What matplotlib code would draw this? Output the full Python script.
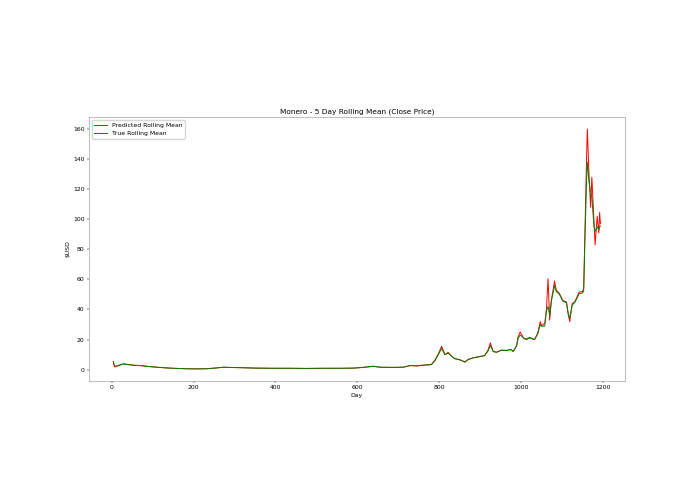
import matplotlib
matplotlib.use("Agg")
import matplotlib.pyplot as plt

days = [4, 7, 10, 15, 22, 29, 40, 55, 70, 90, 111, 130, 151, 180, 208, 232, 255, 273,
        295, 314, 354, 395, 435, 475, 516, 560, 590, 615, 639, 655, 685, 712, 729, 745,
        762, 781, 790, 798, 806, 810, 814, 822, 830, 838, 850, 863, 871, 883, 895, 911,
        919, 925, 932, 940, 952, 964, 975, 981, 989, 993, 998, 1007, 1014, 1021, 1033,
        1041, 1047, 1050, 1058, 1062, 1066, 1070, 1074, 1082, 1086, 1094, 1102, 1111,
        1115, 1119, 1125, 1131, 1142, 1150, 1153, 1156, 1160, 1162, 1166, 1170, 1173,
        1178, 1181, 1186, 1190, 1192, 1194]

true_mean = [4.5, 2.5, 2.3, 2.6, 3.2, 3.8, 3.3, 2.9, 2.7, 2.1, 1.6, 1.2, 0.9, 0.6, 0.5,
             0.6, 1.1, 1.6, 1.4, 1.3, 1.0, 0.9, 0.9, 0.8, 0.9, 0.9, 1.0, 1.5, 2.2, 1.6,
             1.5, 1.6, 2.7, 2.5, 3.0, 3.3, 6.0, 10.0, 14.0, 12.0, 10.0, 11.0, 9.0, 7.3,
             6.7, 5.1, 6.7, 7.8, 8.4, 9.3, 12.2, 16.0, 12.2, 11.6, 12.9, 12.7, 13.3, 12.2,
             15.5, 21.0, 23.0, 21.0, 20.0, 21.0, 20.0, 24.0, 30.0, 28.9, 29.0, 39.0, 42.0,
             36.0, 45.5, 56.0, 52.0, 50.0, 45.5, 44.5, 38.0, 34.0, 43.0, 44.5, 50.5, 51.0,
             52.0, 85.0, 125.0, 138.0, 125.0, 118.0, 115.0, 95.5, 92.0, 95.0, 93.0, 95.0,
             95.5]

pred_mean = [5.5, 1.8, 2.0, 2.6, 3.3, 3.9, 3.4, 2.9, 2.7, 2.1, 1.6, 1.2, 0.9, 0.6, 0.5,
             0.6, 1.1, 1.6, 1.4, 1.3, 1.0, 0.9, 0.9, 0.8, 0.9, 0.9, 1.0, 1.5, 2.3, 1.6,
             1.5, 1.6, 2.7, 2.5, 3.0, 3.4, 6.5, 10.5, 15.5, 13.0, 10.0, 11.5, 9.0, 7.3,
             6.5, 5.0, 6.8, 7.9, 8.5, 9.4, 12.8, 17.8, 12.0, 11.5, 13.0, 12.8, 13.5, 12.0,
             16.0, 22.0, 25.0, 20.5, 20.5, 21.5, 20.0, 24.5, 32.0, 29.0, 31.0, 40.0, 60.5,
             33.0, 46.0, 59.0, 53.0, 50.5, 46.0, 45.0, 37.0, 32.0, 44.0, 45.0, 51.5, 52.0,
             54.0, 90.0, 140.0, 160.0, 130.0, 108.0, 128.0, 100.0, 83.0, 102.0, 91.0,
             104.5, 97.0]

s = 0.44
plt.rcParams.update({
    "font.size": 10 * s,
    "axes.linewidth": 0.45,
    "xtick.major.size": 3.5 * s,
    "ytick.major.size": 3.5 * s,
    "xtick.major.width": 0.8 * s,
    "ytick.major.width": 0.8 * s,
    "xtick.major.pad": 3.5 * s,
    "ytick.major.pad": 3.5 * s,
    "axes.titlepad": 6 * s,
    "axes.labelpad": 4 * s,
})

fig = plt.figure(figsize=(6.95, 4.94), dpi=100)
ax = fig.add_axes([0.128, 0.229, 0.771, 0.534])
ax.plot(days, pred_mean, color="red", lw=0.7, label="Predicted Rolling Mean")
ax.plot(days, true_mean, color="green", lw=0.7, label="True Rolling Mean")
ax.set_title("Monero - 5 Day Rolling Mean (Close Price)", fontsize=12 * s)
ax.set_xlabel("Day")
ax.set_ylabel("$USD")
ax.set_xticks([0, 200, 400, 600, 800, 1000, 1200])
ax.set_yticks([0, 20, 40, 60, 80, 100, 120, 140, 160])
for sp in ax.spines.values():
    sp.set_color("#999999")
ax.legend(loc="upper left", fontsize=10 * s, frameon=True, borderpad=0.4,
          handlelength=2.0, framealpha=0.8)
fig.savefig("out.png", dpi=100)
